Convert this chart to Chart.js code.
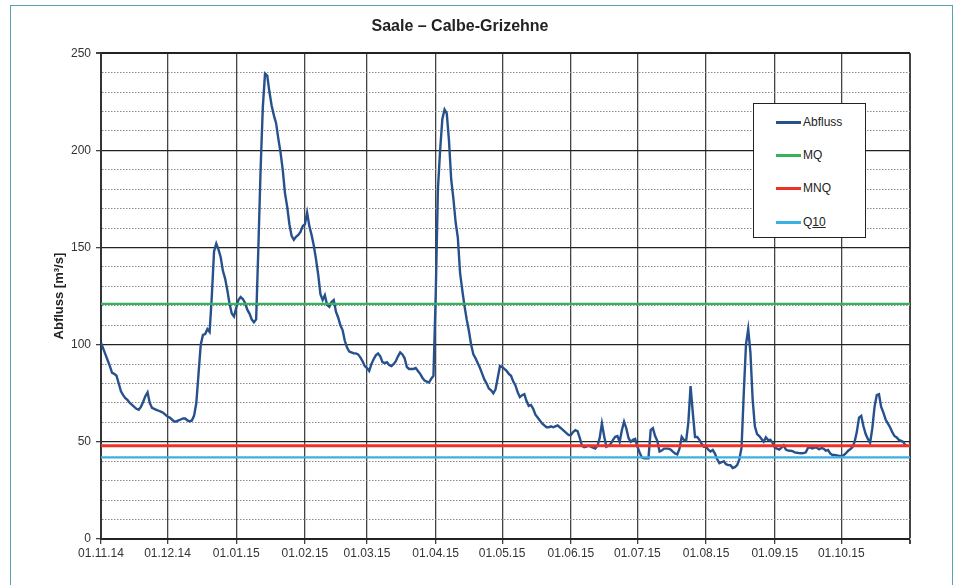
<!DOCTYPE html>
<html>
<head>
<meta charset="utf-8">
<script src="https://cdn.jsdelivr.net/npm/chart.js@4"></script>
<style>
  html, body { margin: 0; padding: 0; background: #fff; }
  #wrap { position: relative; width: 955px; height: 585px; overflow: hidden; }
  #frame { position: absolute; left: 10px; top: 5px; width: 941px; height: 640px; border: 1.5px solid #5aa2b1; }
  #chart { position: absolute; left: 0; top: 0; }
  #legend { position: absolute; left: 753px; top: 103px; width: 113px; height: 135px; box-sizing: border-box;
            border: 1px solid #222; background: #fff; font: 12px "Liberation Sans", Arial, sans-serif; color: #222; }
  #legend .item { position: absolute; left: 22px; height: 14px; display: flex; align-items: center; white-space: nowrap; }
  #legend .item i { display: inline-block; width: 25px; height: 3px; margin-right: 2px; }
</style>
</head>
<body>
<div id="wrap">
  <div id="frame"></div>
  <canvas id="chart" width="955" height="585"></canvas>
  <div id="legend"></div>
</div>
<script>
// Tagesmittel Abfluss, Tag 0 = 01.11.14
const abfluss = [
  101, 98, 95, 92, 89, 85.5, 85, 84, 80, 76,
  74, 72.5, 71.5, 70, 69, 68, 67, 66.5, 68, 70.5,
  73.5, 75.5, 70, 67.5, 67, 66.5, 66, 65.5, 65, 64,
  63, 62.5, 61.5, 60.5, 60.5, 61, 61.5, 62, 62, 61,
  60.5, 61, 63.5, 70, 85, 100, 105, 105.5, 108, 106.5,
  125, 148, 152, 149, 145, 138, 134, 128, 121, 116,
  114.5, 119, 123, 124.5, 123.5, 121.5, 118, 116, 113, 111.5,
  113, 150, 190, 222, 239.5, 238.5, 230, 223, 218, 214,
  206, 199, 190, 178, 171, 162, 156, 154, 155.5, 156.5,
  158, 161, 162, 168, 161, 156.5, 151, 144, 136, 126,
  123, 125.5, 120.5, 119.5, 122, 123, 117, 114, 110, 107.5,
  102, 98.5, 96.5, 96, 95.5, 95.5, 95, 93.5, 91.5, 89,
  88, 86.5, 90, 92.5, 94.5, 95.5, 94, 91, 90.5, 91,
  89.5, 89, 90, 91.5, 94, 96, 95, 93, 88.5, 87.5,
  87.5, 87.5, 88, 86.5, 85, 83, 81.5, 81, 80.5, 82.5,
  84, 125, 180, 200, 216, 221, 219, 205, 185, 175,
  163, 155, 137, 128, 120, 113, 107, 100, 95, 93,
  90.5, 88, 85, 82, 80, 77.5, 76.5, 75, 77, 83,
  89, 88.5, 87.5, 86.5, 85, 84, 81, 79, 75.5, 73,
  74, 74.5, 71, 68.5, 69, 67, 64, 62.5, 61, 59.5,
  58.5, 57.5, 57.5, 58, 57.5, 58, 58.5, 57.5, 56.5, 55.5,
  54.5, 53.5, 53.5, 55, 56, 55.5, 52, 48, 47.2, 47.5,
  48, 47.5, 47, 46.5, 48, 52, 59.5, 53, 47.5, 48,
  49, 51, 52.6, 53, 50, 56, 60.4, 57, 52, 50,
  51, 51.5, 47.5, 44.5, 42, 41.5, 41.5, 41.5, 56, 57,
  53, 50.5, 45, 45.5, 46.5, 46.5, 46.5, 46, 45, 44,
  43.5, 46.5, 52.6, 51, 50.5, 60, 78.7, 65, 52.5, 52.5,
  51, 49, 47.5, 47.5, 46, 45, 45.8, 44, 41, 39,
  39.5, 40, 38.5, 38, 38, 36.5, 37, 38, 41, 47,
  75, 100, 108, 96, 72, 58, 54, 53, 51.5, 50,
  52.3, 50.8, 51, 49.5, 47, 46.5, 46, 47, 48.2, 46,
  45.5, 45.4, 45.2, 44.6, 44.4, 44.2, 44.1, 44.2, 44.6, 47,
  47, 46.6, 47, 47, 46.2, 46.8, 46.5, 45.5, 45.8, 44,
  43.2, 43.2, 43, 42.8, 42.8, 43, 44, 45.3, 46.2, 47.2,
  50, 55, 62.5, 63.4, 58, 54, 51.5, 49.5, 57, 68,
  74, 74.5, 68, 65, 61.5, 59.5, 57.5, 55, 53, 52.3,
  51, 50.5, 50, 48, 48
];

// Kennwerte [m³/s]
const MQ = 121;
const MNQ = 48;
const Q10 = 42;

// Monatsanfänge als Tagesnummer und Beschriftung
const tickDays = [0, 30, 61, 92, 120, 151, 181, 212, 242, 273, 304, 334, 365];
const tickLabels = ['01.11.14', '01.12.14', '01.01.15', '01.02.15', '01.03.15', '01.04.15',
                    '01.05.15', '01.06.15', '01.07.15', '01.08.15', '01.09.15', '01.10.15'];

const lastDay = 365;
const font = '"Liberation Sans", Arial, sans-serif';

function level(label, value, color, width) {
  return {
    label: label,
    data: [{ x: 0, y: value }, { x: lastDay, y: value }],
    borderColor: color,
    borderWidth: width,
    pointRadius: 0,
    order: 1
  };
}

const datasets = [
  {
    label: 'Abfluss',
    data: abfluss.map((v, i) => ({ x: i, y: v })),
    borderColor: '#27518d',
    borderWidth: 2.4,
    pointRadius: 0,
    tension: 0,
    order: 2
  },
  level('MQ', MQ, '#36b25c', 2.2),
  level('MNQ', MNQ, '#ee3129', 3),
  level('Q10', Q10, '#3bb0e2', 2.2)
];

const chart = new Chart(document.getElementById('chart'), {
  type: 'line',
  data: { datasets: datasets },
  options: {
    responsive: false,
    animation: false,
    layout: { padding: { left: 10, right: 45, top: 0, bottom: 0 } },
    plugins: {
      legend: { display: false },
      tooltip: { enabled: false },
      title: {
        display: true,
        text: 'Saale – Calbe-Grizehne',
        color: '#222',
        font: { family: font, size: 16, weight: 'bold' },
        padding: { top: 17, bottom: 17 }
      }
    },
    scales: {
      x: {
        type: 'linear',
        min: 0,
        max: lastDay,
        afterBuildTicks: s => { s.ticks = tickDays.map(v => ({ value: v })); },
        afterFit: s => { s.height = 46; },
        ticks: {
          autoSkip: false,
          maxRotation: 0,
          padding: 2,
          color: '#333',
          font: { family: font, size: 12 },
          callback: (v, i) => tickLabels[i] || ''
        },
        grid: {
          color: '#444',
          lineWidth: c => (c.tick && c.tick.value === lastDay ? 2 : 1.3),
          tickLength: 5,
          tickColor: '#444'
        },
        border: { color: '#222', width: 2 }
      },
      y: {
        min: 0,
        max: 250,
        afterFit: s => { s.width = 91; },
        ticks: {
          stepSize: 10,
          autoSkip: false,
          padding: 5,
          color: '#333',
          font: { family: font, size: 12 },
          callback: v => (v % 50 === 0 ? v : '')
        },
        grid: {
          color: c => (c.tick && c.tick.value % 50 === 0 ? '#222' : '#8a8a8a'),
          lineWidth: c => (c.tick && c.tick.value === 250 ? 2 : (c.tick && c.tick.value % 50 === 0 ? 1.3 : 1)),
          tickLength: 5,
          tickColor: c => (c.tick && c.tick.value % 50 === 0 ? '#444' : 'rgba(0,0,0,0)')
        },
        border: {
          color: '#333',
          width: 2,
          dash: c => (c.tick && c.tick.value % 50 !== 0 ? [1.5, 1.5] : [])
        },
        title: {
          display: true,
          text: 'Abfluss [m³/s]',
          color: '#222',
          font: { family: font, size: 13, weight: 'bold' },
          padding: { top: 42, bottom: 0 }
        }
      }
    }
  }
});

// Legende im Diagramm
const legend = document.getElementById('legend');
const rowTops = [11, 44, 77, 111];
chart.data.datasets.forEach((ds, i) => {
  const row = document.createElement('div');
  row.className = 'item';
  row.style.top = rowTops[i] + 'px';
  const line = document.createElement('i');
  line.style.background = ds.borderColor;
  row.appendChild(line);
  const text = document.createElement('span');
  if (ds.label === 'Q10') {
    text.innerHTML = 'Q<u>10</u>';
  } else {
    text.textContent = ds.label;
  }
  row.appendChild(text);
  legend.appendChild(row);
});
</script>
</body>
</html>
